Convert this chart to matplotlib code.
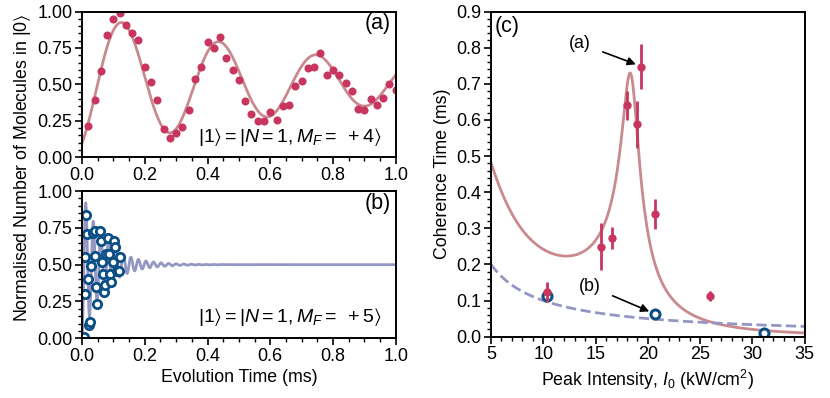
import numpy as np
import matplotlib
matplotlib.use("Agg")
import matplotlib.pyplot as plt
from matplotlib.ticker import MultipleLocator, FormatStrFormatter

plt.rcParams['font.family'] = ['Liberation Sans', 'DejaVu Sans']
plt.rcParams['mathtext.fontset'] = 'custom'
plt.rcParams['mathtext.rm'] = 'Liberation Sans'
plt.rcParams['mathtext.it'] = 'Liberation Sans:italic'
plt.rcParams['mathtext.fallback'] = 'stixsans'
plt.rcParams['font.size'] = 12.8

# panel (a): M_F = +4
t_a = [0.02, 0.04, 0.06, 0.08, 0.10, 0.12, 0.14, 0.16, 0.18, 0.20,
       0.22, 0.24, 0.26, 0.28, 0.30, 0.32, 0.34, 0.36, 0.38, 0.40,
       0.42, 0.44, 0.46, 0.48, 0.50, 0.52, 0.54, 0.56, 0.58, 0.60,
       0.62, 0.64, 0.66, 0.68, 0.70, 0.72, 0.74, 0.76, 0.78, 0.80,
       0.82, 0.84, 0.86, 0.88, 0.90, 0.92, 0.94, 0.96, 0.98, 1.00]
y_a = [0.217, 0.394, 0.593, 0.842, 0.952, 0.989, 0.908, 0.856, 0.805, 0.618,
       0.513, 0.394, 0.192, 0.135, 0.169, 0.206, 0.323, 0.540, 0.622, 0.789,
       0.748, 0.822, 0.680, 0.600, 0.531, 0.387, 0.295, 0.249, 0.249, 0.313,
       0.256, 0.352, 0.355, 0.492, 0.526, 0.609, 0.622, 0.712, 0.561, 0.600,
       0.561, 0.508, 0.455, 0.332, 0.325, 0.403, 0.357, 0.407, 0.503, 0.462]
# damped-sine fit parameters (a)
fit_a = dict(c=0.51, amp=0.485, tau=0.81, period=0.31, t_peak=0.128)

# panel (b): M_F = +5
t_b = [0.006, 0.009, 0.010, 0.0125, 0.0145, 0.0205, 0.0235, 0.0255, 0.0295, 0.0355,
       0.040, 0.0425, 0.044, 0.048, 0.0565, 0.059, 0.064, 0.067, 0.070, 0.0735,
       0.0775, 0.082, 0.086, 0.0895, 0.094, 0.098, 0.102, 0.1065, 0.1105, 0.118, 0.1205]
y_b = [0.01, 0.30, 0.55, 0.84, 0.71, 0.40, 0.09, 0.11, 0.49, 0.715,
       0.73, 0.557, 0.35, 0.235, 0.73, 0.66, 0.52, 0.44, 0.315, 0.365,
       0.575, 0.68, 0.57, 0.44, 0.385, 0.52, 0.66, 0.62, 0.455, 0.46, 0.55]
fit_b = dict(c=0.5, amp=0.5, tau=0.068, period=0.024)

# panel (c): coherence time vs intensity
I_red = [10.35, 15.5, 16.56, 17.96, 18.92, 19.33, 20.7, 25.9]
T_red = [0.123, 0.249, 0.273, 0.641, 0.588, 0.747, 0.339, 0.113]
T_red_err = [0.028, 0.065, 0.031, 0.040, 0.065, 0.062, 0.042, 0.013]
I_blue = [10.35, 20.7, 31.08]
T_blue = [0.113, 0.062, 0.011]
# model parameters (c)
gamma0 = 1.37      # 1/ms
k_slope = 0.0047
I_magic = 18.3
a_blue = 1.0

red = '#c8365f'
red_line = '#c98a8f'
blue = '#0b4f86'
lav = '#9496c4'

fig = plt.figure(figsize=(8.3, 3.98), dpi=100)
ax_a = fig.add_axes([0.0988, 0.605, 0.378, 0.366])
ax_b = fig.add_axes([0.0988, 0.150, 0.378, 0.370])
ax_c = fig.add_axes([0.5916, 0.154, 0.378, 0.817])

tt = np.linspace(0, 1, 1000)
env = np.exp(-tt / fit_a['tau'])
phase = 2 * np.pi * (tt - fit_a['t_peak']) / fit_a['period']
ax_a.plot(tt, fit_a['c'] + fit_a['amp'] * env * np.cos(phase), color=red_line, lw=2, zorder=1)
ax_a.plot(t_a, y_a, 'o', color=red, ms=5.8, mec='none', zorder=2)

tb = np.linspace(0, 1, 4000)
yb = fit_b['c'] - fit_b['amp'] * np.exp(-tb / fit_b['tau']) * np.cos(2 * np.pi * tb / fit_b['period'])
ax_b.plot(tb, yb, color=lav, lw=2, zorder=1)
ax_b.plot(t_b, y_b, 'o', mfc='white', mec=blue, mew=2, ms=6, zorder=2)

for ax in (ax_a, ax_b):
    ax.set_xlim(0, 1)
    ax.set_ylim(0, 1)
    ax.xaxis.set_major_locator(MultipleLocator(0.2))
    ax.xaxis.set_minor_locator(MultipleLocator(0.05))
    ax.yaxis.set_major_locator(MultipleLocator(0.25))
    ax.yaxis.set_minor_locator(MultipleLocator(0.05))
    ax.xaxis.set_major_formatter(FormatStrFormatter('%.1f'))
    ax.yaxis.set_major_formatter(FormatStrFormatter('%.2f'))

ax_a.text(0.985, 0.92, '(a)', transform=ax_a.transAxes, ha='right', va='center', fontsize=15.5)
ax_b.text(0.985, 0.915, '(b)', transform=ax_b.transAxes, ha='right', va='center', fontsize=15.5)
ax_a.text(0.955, 0.14, r'$|1\rangle = |N = 1, M_F =\ +4\rangle$', transform=ax_a.transAxes,
          ha='right', va='center', fontsize=14)
ax_b.text(0.955, 0.146, r'$|1\rangle = |N = 1, M_F =\ +5\rangle$', transform=ax_b.transAxes,
          ha='right', va='center', fontsize=14)
ax_b.set_xlabel('Evolution Time (ms)', labelpad=3)
fig.text(0.027, 0.578, r'Normalised Number of Molecules in $|0\rangle$', rotation=90,
         ha='center', va='center', fontsize=12.8)

II = np.linspace(5, 35, 2000)
gam = np.sqrt(gamma0 ** 2 + (k_slope * II ** 2 * (II - I_magic)) ** 2)
ax_c.plot(II, 1 / gam, color=red_line, lw=2, zorder=1)
ax_c.plot(II, a_blue / II, '--', color=lav, lw=2, zorder=1)
ax_c.plot(I_blue, T_blue, 'o', mfc='white', mec=blue, mew=2.2, ms=6.5, zorder=2)
ax_c.errorbar(I_red, T_red, yerr=T_red_err, fmt='o', color=red, ms=6, mec='none',
              elinewidth=2, capsize=0, zorder=3)
ax_c.set_xlim(5, 35)
ax_c.set_ylim(0, 0.9)
ax_c.xaxis.set_major_locator(MultipleLocator(5))
ax_c.xaxis.set_minor_locator(MultipleLocator(1))
ax_c.yaxis.set_major_locator(MultipleLocator(0.1))
ax_c.yaxis.set_minor_locator(MultipleLocator(0.02))
ax_c.yaxis.set_major_formatter(FormatStrFormatter('%.1f'))
ax_c.set_xlabel(r'Peak Intensity, $I_0$ (kW/cm$^2$)', labelpad=3)
ax_c.set_ylabel('Coherence Time (ms)')
ax_c.text(0.013, 0.955, '(c)', transform=ax_c.transAxes, ha='left', va='center', fontsize=15.5)
ax_c.annotate('(a)', xy=(18.85, 0.754), xytext=(13.5, 0.812), ha='center', va='center',
              fontsize=12.8, arrowprops=dict(arrowstyle='-|>', color='black', lw=1.2,
                                             shrinkA=7, shrinkB=0, mutation_scale=12))
ax_c.annotate('(b)', xy=(20.13, 0.07), xytext=(14.46, 0.14), ha='center', va='center',
              fontsize=12.8, arrowprops=dict(arrowstyle='-|>', color='black', lw=1.2,
                                             shrinkA=7, shrinkB=0, mutation_scale=12))

for ax in (ax_a, ax_b, ax_c):
    for s in ax.spines.values():
        s.set_linewidth(1.4)
    ax.tick_params(which='major', direction='out', length=5, width=1.2, labelsize=13, pad=2)
    ax.tick_params(which='minor', direction='out', length=3, width=1.0)

fig.savefig('out.png', dpi=100)
